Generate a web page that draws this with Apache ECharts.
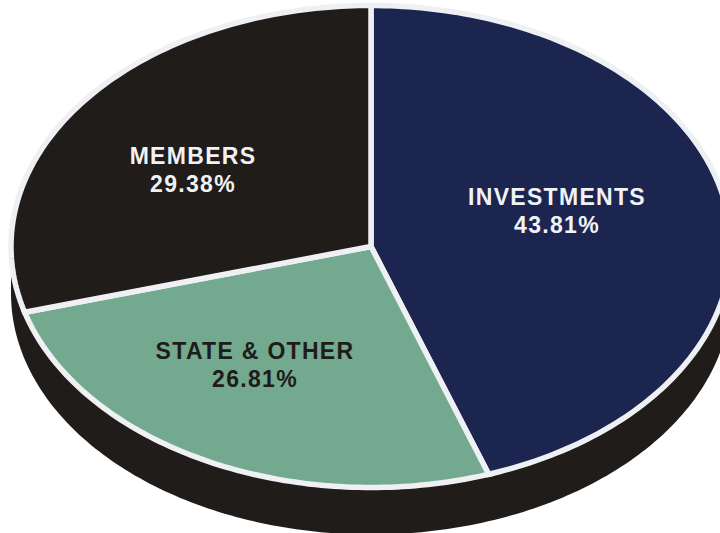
<!DOCTYPE html>
<html>
<head>
<meta charset="utf-8">
<title>Revenue sources</title>
<style>
  html, body { margin: 0; padding: 0; background: #fff; }
  #chart { width: 720px; height: 533px; overflow: hidden; }
  #chart text { letter-spacing: 1.3px; }
</style>
</head>
<body>
<div id="chart"></div>
<script src="https://cdn.jsdelivr.net/npm/echarts@6/dist/echarts.min.js"></script>
<script>
var categories = ['INVESTMENTS', 'STATE & OTHER', 'MEMBERS'];
var percentLabels = ['43.81%', '26.81%', '29.38%'];
// slice sizes as measured on the drawing: its INVESTMENTS wedge is a little wider than its printed 43.81%
var sliceValues = [44.7, 25.9, 29.4];

var sliceColors = ['#1b2550', '#73a98f', '#201c19'];
var textColors = ['#f1f2f5', '#201c19', '#f1f2f5'];
var labelAnchors = [[557, 211], [255, 365], [193, 170]];

var SIDE_COLOR = '#201c19';
var EDGE_COLOR = '#eef0f4';
var CX = 371, CY = 246.5, RX = 360, RY = 241, DEPTH = 47;

var total = sliceValues.reduce(function (a, b) { return a + b; }, 0);

// point on the ellipse, angle in degrees clockwise from 12 o'clock
function onEllipse(deg, cy) {
    var rad = deg * Math.PI / 180;
    return [CX + RX * Math.sin(rad), cy + RY * -Math.cos(rad)];
}

function arcPoints(fromDeg, toDeg, cy) {
    var pts = [];
    for (var d = fromDeg; d < toDeg; d += 1) {
        pts.push(onEllipse(d, cy));
    }
    pts.push(onEllipse(toDeg, cy));
    return pts;
}

function renderSide() {
    var pts = [[CX + RX, CY]].concat(arcPoints(90, 270, CY + DEPTH), [[CX - RX, CY]]);
    return {
        type: 'polygon',
        shape: { points: pts },
        style: { fill: SIDE_COLOR }
    };
}

function renderSlice(params, api) {
    var i = params.dataIndex;
    var before = 0;
    for (var k = 0; k < i; k++) {
        before += sliceValues[k];
    }
    var start = before / total * 360;
    var end = (before + api.value(0)) / total * 360;
    var pts = [[CX, CY]].concat(arcPoints(start, end, CY));
    return {
        type: 'group',
        children: [{
            type: 'polygon',
            shape: { points: pts },
            style: { fill: sliceColors[i], stroke: EDGE_COLOR, lineWidth: 5.5, lineJoin: 'miter' }
        }, {
            type: 'text',
            z2: 10,
            style: {
                x: labelAnchors[i][0],
                y: labelAnchors[i][1],
                text: categories[i] + '\n' + percentLabels[i],
                fill: textColors[i],
                font: 'bold 23px "Liberation Sans", Arial, sans-serif',
                lineHeight: 28,
                align: 'center',
                verticalAlign: 'middle'
            }
        }]
    };
}

var myChart = echarts.init(document.getElementById('chart'), null, { renderer: 'svg' });
myChart.setOption({
    animation: false,
    series: [
        {
            type: 'custom',
            coordinateSystem: 'none',
            silent: true,
            data: [[1]],
            renderItem: renderSide
        },
        {
            type: 'custom',
            coordinateSystem: 'none',
            silent: true,
            data: sliceValues.map(function (v) { return [v]; }),
            renderItem: renderSlice
        }
    ]
});
</script>
</body>
</html>
